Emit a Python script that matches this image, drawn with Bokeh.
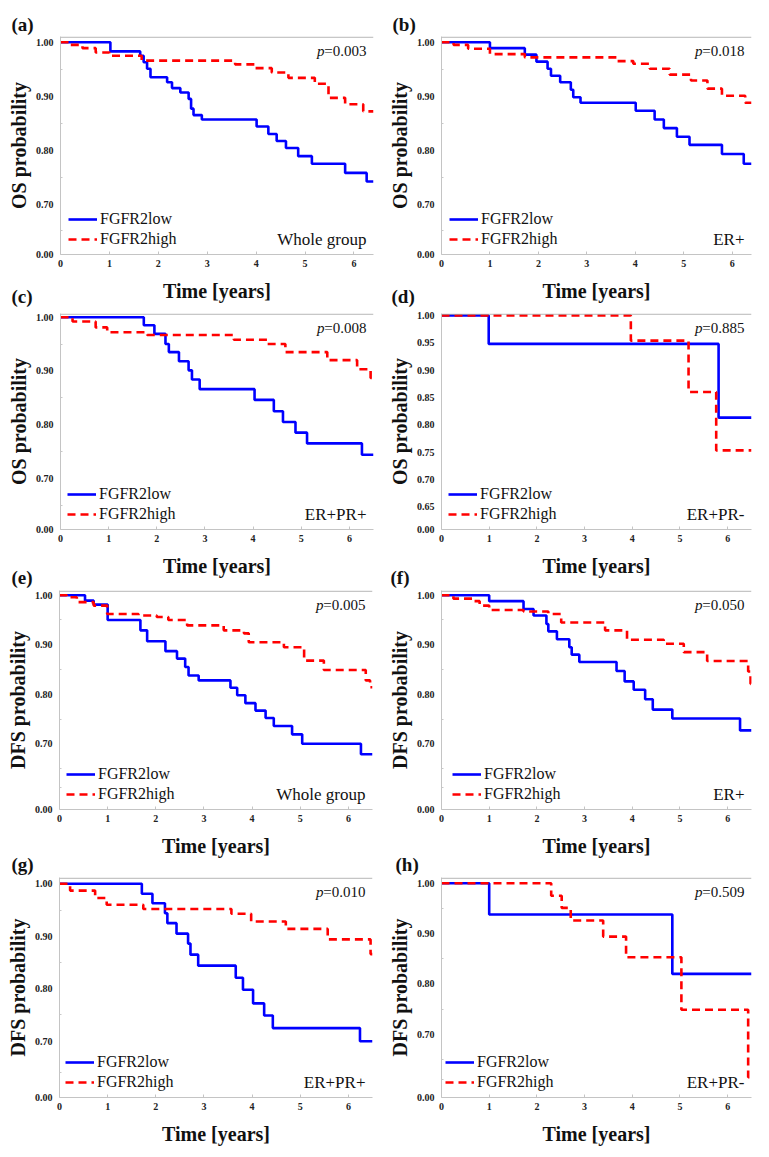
import math
from bokeh.plotting import figure
from bokeh.models import Range1d, FixedTicker, Label, Span, Legend, LegendItem, Title
from bokeh.layouts import column, row
from bokeh.embed import file_html
from bokeh.resources import INLINE

# ---------------- data (Kaplan-Meier step curves) ----------------
a_low_t = [0, 1.02, 1.63, 1.70, 1.77, 1.84, 2.18, 2.28, 2.45, 2.62, 2.67, 2.72, 2.89, 4.01, 4.25, 4.42, 4.61, 4.86, 5.14, 5.82, 6.26, 6.40]
a_low_s = [1.000, 0.983, 0.975, 0.963, 0.951, 0.935, 0.926, 0.915, 0.907, 0.895, 0.877, 0.865, 0.857, 0.844, 0.830, 0.817, 0.804, 0.789, 0.775, 0.758, 0.742, 0.742]
a_high_t = [0, 0.20, 0.45, 0.72, 1.00, 1.66, 3.57, 3.98, 4.32, 4.66, 5.20, 5.48, 5.82, 6.19, 6.40]
a_high_s = [1.000, 0.995, 0.989, 0.981, 0.975, 0.966, 0.959, 0.952, 0.944, 0.934, 0.923, 0.897, 0.885, 0.872, 0.872]

b_low_t = [0, 1.00, 1.72, 1.96, 2.19, 2.26, 2.45, 2.67, 2.72, 2.87, 4.01, 4.40, 4.59, 4.86, 5.12, 5.79, 6.24, 6.40]
b_low_s = [1.000, 0.989, 0.977, 0.964, 0.951, 0.938, 0.926, 0.912, 0.898, 0.888, 0.873, 0.857, 0.841, 0.825, 0.810, 0.793, 0.775, 0.775]
b_high_t = [0, 0.25, 0.55, 1.00, 1.72, 3.62, 3.96, 4.30, 4.71, 5.15, 5.49, 5.79, 6.27, 6.40]
b_high_s = [1.000, 0.995, 0.988, 0.978, 0.972, 0.965, 0.960, 0.951, 0.940, 0.929, 0.914, 0.901, 0.888, 0.888]

c_low_t = [0, 1.73, 1.95, 2.18, 2.25, 2.46, 2.66, 2.73, 2.89, 4.03, 4.43, 4.62, 4.88, 5.12, 6.26, 6.50]
c_low_s = [1.000, 0.985, 0.969, 0.950, 0.935, 0.918, 0.901, 0.884, 0.866, 0.846, 0.825, 0.805, 0.785, 0.765, 0.744, 0.744]
c_high_t = [0, 0.25, 0.73, 0.97, 1.80, 3.60, 4.29, 4.67, 5.54, 6.16, 6.44, 6.50]
c_high_s = [1.000, 0.992, 0.981, 0.972, 0.967, 0.958, 0.950, 0.935, 0.920, 0.903, 0.887, 0.887]

d_low_t = [0, 0.99, 5.81, 6.50]
d_low_s = [1.000, 0.948, 0.813, 0.813]
d_high_t = [0, 3.97, 5.18, 5.76, 6.50]
d_high_s = [1.000, 0.954, 0.860, 0.753, 0.753]

e_low_t = [0, 0.53, 0.71, 1.00, 1.68, 1.82, 2.20, 2.44, 2.61, 2.68, 2.89, 3.55, 3.69, 3.86, 4.07, 4.28, 4.45, 4.83, 5.04, 6.26, 6.50]
e_low_s = [1.000, 0.989, 0.981, 0.950, 0.929, 0.907, 0.887, 0.872, 0.855, 0.838, 0.828, 0.813, 0.798, 0.782, 0.767, 0.752, 0.736, 0.719, 0.700, 0.679, 0.679]
e_high_t = [0, 0.15, 0.36, 0.71, 0.99, 1.64, 2.02, 2.26, 2.65, 3.41, 3.83, 3.93, 4.66, 5.08, 5.49, 6.36, 6.45, 6.50]
e_high_s = [1.000, 0.996, 0.986, 0.979, 0.962, 0.959, 0.956, 0.950, 0.939, 0.929, 0.923, 0.905, 0.895, 0.868, 0.849, 0.828, 0.814, 0.814]

f_low_t = [0, 1.00, 1.72, 1.93, 2.20, 2.24, 2.42, 2.68, 2.73, 2.89, 3.67, 3.84, 4.03, 4.27, 4.43, 4.84, 6.26, 6.50]
f_low_s = [1.000, 0.988, 0.972, 0.959, 0.942, 0.927, 0.911, 0.895, 0.880, 0.865, 0.847, 0.826, 0.809, 0.790, 0.769, 0.751, 0.727, 0.727]
f_high_t = [0, 0.25, 0.65, 0.80, 1.00, 1.72, 2.24, 2.51, 3.43, 3.89, 4.66, 5.08, 5.57, 6.43, 6.48, 6.50]
f_high_s = [1.000, 0.993, 0.988, 0.979, 0.970, 0.967, 0.962, 0.945, 0.929, 0.910, 0.902, 0.885, 0.867, 0.846, 0.821, 0.821]

g_low_t = [0, 1.71, 1.93, 2.19, 2.24, 2.43, 2.67, 2.72, 2.88, 3.66, 3.81, 4.02, 4.25, 4.43, 6.24, 6.50]
g_low_s = [1.000, 0.981, 0.963, 0.944, 0.925, 0.905, 0.886, 0.865, 0.844, 0.821, 0.798, 0.772, 0.749, 0.725, 0.700, 0.700]
g_high_t = [0, 0.22, 0.74, 0.98, 1.74, 3.57, 3.98, 4.70, 5.57, 6.46, 6.50]
g_high_s = [1.000, 0.987, 0.973, 0.960, 0.952, 0.943, 0.928, 0.914, 0.894, 0.866, 0.866]

h_low_t = [0, 1.00, 4.84, 6.50]
h_low_s = [1.000, 0.938, 0.820, 0.820]
h_high_t = [0, 2.30, 2.52, 2.71, 3.39, 3.87, 5.03, 6.43, 6.50]
h_high_s = [1.000, 0.975, 0.951, 0.926, 0.894, 0.853, 0.749, 0.615, 0.615]

panel_letters = ["(a)", "(b)", "(c)", "(d)", "(e)", "(f)", "(g)", "(h)"]
y_titles = ["OS probability"] * 4 + ["DFS probability"] * 4
x_title = "Time [years]"
p_values = ["=0.003", "=0.018", "=0.008", "=0.885", "=0.005", "=0.050", "=0.010", "=0.509"]
subgroups = ["Whole group", "ER+", "ER+PR+", "ER+PR-", "Whole group", "ER+", "ER+PR+", "ER+PR-"]
series_names = ["FGFR2low", "FGFR2high"]
x_ticks = [0, 1, 2, 3, 4, 5, 6]
y_ticks_main = [0.70, 0.80, 0.90, 1.00]
y_ticks_d = [0.65, 0.70, 0.75, 0.80, 0.85, 0.90, 0.95, 1.00]
# faint minor marks (incl. the axis-break mark) per panel
minor_marks = [
    [0.651, 0.75, 0.85, 0.95],
    [0.651, 0.75, 0.85, 0.95],
    [0.649, 0.75, 0.85, 0.95],
    [],
    [0.611, 0.65, 0.75, 0.85, 0.95],
    [0.611, 0.65, 0.75, 0.85, 0.95],
    [0.641, 0.75, 0.85, 0.95],
    [0.610, 0.65, 0.75, 0.85, 0.95],
]

curves = [
    (a_low_t, a_low_s, a_high_t, a_high_s),
    (b_low_t, b_low_s, b_high_t, b_high_s),
    (c_low_t, c_low_s, c_high_t, c_high_s),
    (d_low_t, d_low_s, d_high_t, d_high_s),
    (e_low_t, e_low_s, e_high_t, e_high_s),
    (f_low_t, f_low_s, f_high_t, f_high_s),
    (g_low_t, g_low_s, g_high_t, g_high_s),
    (h_low_t, h_low_s, h_high_t, h_high_s),
]

# ---------------- layout / styling ----------------
FONT = "Liberation Serif"
BLUE = "#0000ff"
RED = "#ff0000"
AXIS_GREY = "#c4c4c4"
TXT = "#111111"

# per row: figure height, top border, bottom border
row_geom = [(307, 36, 53), (281, 6, 59), (288, 2, 67), (274, 1, 53)]
col_width = [385, 384]
# per panel: left border, right border, x max, y start (broken-axis "0.00"), y end, legend x
panel_geom = [
    (60, 12, 6.4, 0.6069, 1.0106, 8),
    (52, 18, 6.4, 0.6069, 1.0106, 8),
    (60, 12, 6.5, 0.6047, 1.0069, 7),
    (53, 18, 6.5, 0.6081, 1.0037, 7),
    (59, 13, 6.5, 0.5673, 1.0095, 7),
    (48, 18, 6.5, 0.5673, 1.0095, 11),
    (59, 13, 6.5, 0.5927, 1.0120, 6),
    (48, 18, 6.5, 0.5748, 1.0113, 4),
]


def fmt(v):
    return "%.2f" % v


figs = []
for i in range(8):
    r, c = divmod(i, 2)
    fh, bt, bb = row_geom[r]
    bl, br, xmax, y0, y1, lx = panel_geom[i]
    p = figure(width=col_width[c], height=fh, output_backend="svg", toolbar_location=None,
               x_range=Range1d(0, xmax), y_range=Range1d(y0, y1),
               min_border_left=bl, min_border_right=br, min_border_top=bt, min_border_bottom=bb)
    p.grid.visible = False
    p.outline_line_color = None
    p.background_fill_color = "white"
    p.border_fill_color = "white"

    # x axis
    xa = p.xaxis[0]
    xa.ticker = FixedTicker(ticks=x_ticks)
    xa.axis_line_color = AXIS_GREY
    xa.major_tick_line_color = AXIS_GREY
    xa.major_tick_in = 3
    xa.major_tick_out = 0
    xa.minor_tick_line_color = None
    xa.major_label_text_font = FONT
    xa.major_label_text_font_style = "bold"
    xa.major_label_text_font_size = "10px"
    xa.major_label_text_color = "#222222"
    xa.major_label_standoff = 5
    xa.axis_label = x_title
    xa.axis_label_text_font = FONT
    xa.axis_label_text_font_style = "bold"
    xa.axis_label_text_font_size = "20px"
    xa.axis_label_text_color = TXT
    xa.axis_label_standoff = 10

    # y axis (broken: bottom tick labelled 0.00)
    ya = p.yaxis[0]
    main = y_ticks_d if i == 3 else y_ticks_main
    zero_pos = round(y0 + 0.0006, 4)
    ticks = [zero_pos] + main
    ya.ticker = FixedTicker(ticks=ticks, minor_ticks=minor_marks[i])
    overrides = {zero_pos: "0.00"}
    for v in main:
        overrides[v] = fmt(v)
    ya.major_label_overrides = overrides
    ya.axis_line_color = AXIS_GREY
    ya.major_tick_line_color = None
    ya.major_tick_in = 0
    ya.major_tick_out = 0
    ya.minor_tick_line_color = "#c8c8c8"
    ya.minor_tick_in = 2
    ya.minor_tick_out = 0
    ya.major_label_text_font = FONT
    ya.major_label_text_font_style = "bold"
    ya.major_label_text_font_size = "10px"
    ya.major_label_text_color = "#222222"
    ya.major_label_standoff = 7
    ya.axis_label = y_titles[i]
    ya.axis_label_text_font = FONT
    ya.axis_label_text_font_style = "bold"
    ya.axis_label_text_font_size = "20px"
    ya.axis_label_text_color = TXT
    ya.axis_label_standoff = 3

    p.add_layout(Span(location=y1 - (y1 - y0) * 0.003, dimension="width",
                      line_color="#a8a8a8", line_width=1))

    lt, ls, ht, hs = curves[i]
    r_low = p.step(lt, ls, mode="after", line_color=BLUE, line_width=2.6)
    r_high = p.step(ht, hs, mode="after", line_color=RED, line_width=2.6, line_dash="8 5")

    leg = Legend(items=[LegendItem(label=series_names[0], renderers=[r_low]),
                        LegendItem(label=series_names[1], renderers=[r_high])],
                 location=(lx, 5), orientation="vertical")
    leg.background_fill_alpha = 0
    leg.border_line_alpha = 0
    leg.padding = 0
    leg.margin = 0
    leg.spacing = 0
    leg.glyph_width = 29
    leg.glyph_height = 20
    leg.label_height = 20
    leg.label_standoff = 3
    leg.label_text_font = FONT
    leg.label_text_font_style = "normal"
    leg.label_text_font_size = "16px"
    leg.label_text_color = TXT
    leg.label_text_baseline = "middle"
    p.add_layout(leg)

    # p-value (italic p)
    p.add_layout(Label(x=xmax, y=y1, x_offset=-7, y_offset=-14, text=p_values[i], text_align="right",
                       text_baseline="middle", text_font=FONT, text_font_size="15px", text_color=TXT))
    p.add_layout(Label(x=xmax, y=y1, x_offset=-49, y_offset=-14, text="p", text_align="right",
                       text_baseline="middle", text_font=FONT, text_font_style="italic",
                       text_font_size="15px", text_color=TXT))
    # subgroup
    p.add_layout(Label(x=xmax, y=y0, x_offset=-7, y_offset=15, text=subgroups[i], text_align="right",
                       text_baseline="middle", text_font=FONT, text_font_size="17px", text_color=TXT))
    figs.append(p)


def letter_title(text, offset, standoff, valign):
    return Title(text=text, align="left", offset=offset, standoff=standoff, vertical_align=valign,
                 text_font=FONT, text_font_style="bold", text_font_size="19px", text_color=TXT)


# letters of the first row sit above their frames
figs[0].add_layout(letter_title(panel_letters[0], -49, 4, "bottom"), "above")
figs[1].add_layout(letter_title(panel_letters[1], -49, 4, "bottom"), "above")
# letters of later rows sit in the bottom margin of the panel above them
figs[0].add_layout(letter_title(panel_letters[2], -49, -37, "top"), "below")
figs[1].add_layout(letter_title(panel_letters[3], -50, -37, "top"), "below")
figs[2].add_layout(letter_title(panel_letters[4], -49, -25, "top"), "below")
figs[3].add_layout(letter_title(panel_letters[5], -51, -25, "top"), "below")
figs[4].add_layout(letter_title(panel_letters[6], -48, -11, "top"), "below")
figs[5].add_layout(letter_title(panel_letters[7], -46, -11, "top"), "below")

layout = column(row(figs[0], figs[1]), row(figs[2], figs[3]),
                row(figs[4], figs[5]), row(figs[6], figs[7]))

open("out.html", "w").write(file_html(layout, INLINE))
